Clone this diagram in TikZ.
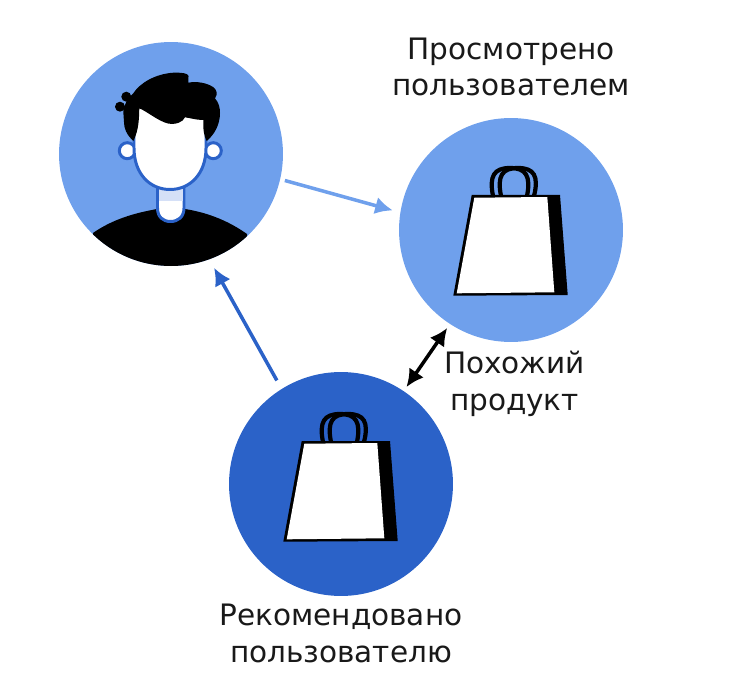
\documentclass[tikz,border=0pt]{standalone}
\usepackage{fontspec}
\setmainfont{DejaVu Sans}
\usetikzlibrary{arrows.meta}
\definecolor{LightBlue}{RGB}{111,160,236}
\definecolor{DarkBlue}{RGB}{43,98,200}
\definecolor{NeckBlue}{RGB}{213,224,247}
\begin{document}
\begin{tikzpicture}[x=0.02cm, y=-0.02cm,
    disc/.style={circle, minimum size=4.48cm, inner sep=0pt, outer sep=0pt},
    lab/.style={font=\fontsize{16.8}{21}\selectfont, align=center, text=black!90},
    link/.style={line width=2pt, -{Latex[length=10pt, width=10pt]}},
    skin/.style={fill=white, draw=DarkBlue, line width=1.7pt}]
    \useasboundingbox (0,0) rectangle (742,692);
    % Discs
    \node[disc, fill=LightBlue] (user) at (171,154) {};
    \node[disc, fill=LightBlue] (viewed) at (511,230) {};
    \node[disc, fill=DarkBlue] (rec) at (341,484) {};
    % Shirt
    \begin{scope}
        \clip (171,154) circle (112);
        \fill[black] (93,233) .. controls (113,219) and (135,213) .. (157,209) -- (185,209)
        .. controls (210,213) and (230,222) .. (247,234) -- (247,300) -- (93,300) -- cycle;
    \end{scope}
    % Neck
    \draw[skin] (157.5,180) -- (157.5,208) .. controls (157.5,217) and (163,221.5) .. (170.5,221.5)
    .. controls (178,221.5) and (184,217) .. (184,208) -- (184,180) -- cycle;
    \fill[NeckBlue] (158.9,189) rectangle (182.6,201.5);
    % Ears
    \draw[skin] (127.3,150.7) circle (8);
    \draw[skin] (213.3,150.7) circle (8);
    % Face
    \draw[skin] (134,100) -- (134,148) .. controls (134,174) and (150,189.5) .. (170,189.5)
    .. controls (190,189.5) and (206,174) .. (206,148) -- (206,100) -- cycle;
    % Hair
    \fill[black] (133.3,141) .. controls (126,134) and (124,128) .. (124,122) -- (123.3,111.7)
    .. controls (124,104) and (128,98) .. (133.3,93.3)
    .. controls (140,83) and (155,74) .. (173.3,72.7)
    .. controls (181,72.5) and (188,73) .. (188.5,76) .. controls (189,79) and (188,81) .. (188.3,82.7)
    .. controls (197,81) and (207,83) .. (213,87) .. controls (217,90) and (218,94) .. (215,98.3)
    .. controls (219,103) and (220,108) .. (220,113) .. controls (220,125) and (214,135) .. (206.7,141)
    .. controls (204,136) and (203,130) .. (203.3,120)
    .. controls (196,120) and (190,118) .. (185,117.3)
    .. controls (183,122) and (176,125) .. (168,123.5)
    .. controls (158,121) and (148,112) .. (139.3,108.3)
    .. controls (139,118) and (139,130) .. (133.3,141) -- cycle;
    \fill[black] (120,106.7) circle (5);
    \fill[black] (126.3,96.7) circle (5);
    % Bags
    \foreach \bx/\by in {0/0, -170/246} {
        \begin{scope}[shift={(\bx,\by)}]
            \draw[black, line width=2.4pt] (493,196) .. controls (489,176) and (494,168) .. (510,168)
            .. controls (526,168) and (531,176) .. (527,196);
            \draw[black, line width=2.4pt] (501,196) .. controls (497,176) and (502,168) .. (518,168)
            .. controls (534,168) and (539,176) .. (534,196);
            \fill[black] (471.7,195) -- (560,195) -- (567.7,295) -- (453.3,295.7) -- cycle;
            \fill[white] (474.3,197.7) -- (547.3,197) -- (554.3,292.3) -- (456.7,293.3) -- cycle;
        \end{scope}
    }
    % Links
    \draw[link, LightBlue, shorten <=2.8pt, shorten >=4.5pt] (user.-13) -- (viewed.171);
    \draw[link, DarkBlue, shorten <=5.6pt, shorten >=5.6pt] (rec.122) -- (user.-70);
    \draw[link, black, {Latex[length=10pt, width=10pt]}-{Latex[length=10pt, width=10pt]}, shorten <=2.8pt, shorten >=2.8pt] (rec.56) -- (viewed.237);
    % Labels
    \node[lab] (viewedlab) at (511,67) {Просмотрено\\пользователем};
    \node[lab] (simlab) at (514.5,384) {Похожий\\продукт};
    \node[lab] (reclab) at (341,633) {Рекомендовано\\пользователю};
\end{tikzpicture}
\end{document}
